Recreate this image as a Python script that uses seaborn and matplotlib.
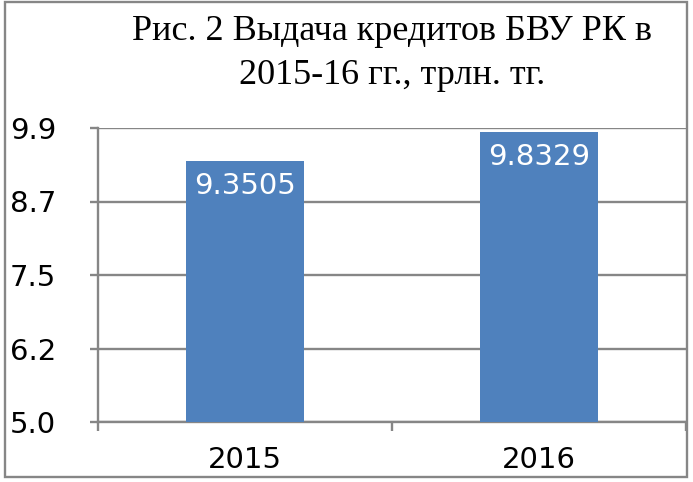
import matplotlib
matplotlib.use("Agg")
import matplotlib.pyplot as plt
from matplotlib.patches import Rectangle
import seaborn as sns
import pandas as pd

years = ["2015", "2016"]
values = [9.3505, 9.8329]
value_labels = ["9.3505", "9.8329"]
y_ticks = [5.0, 6.225, 7.45, 8.675, 9.9]
y_tick_labels = ["5.0", "6.2", "7.5", "8.7", "9.9"]
title_lines = ["Рис. 2 Выдача кредитов БВУ РК в", "2015-16 гг., трлн. тг."]

sns.set_style("white")
plt.rcParams["font.family"] = ["DejaVu Sans"]
plt.rcParams["text.color"] = "black"
plt.rcParams["xtick.color"] = "black"
plt.rcParams["ytick.color"] = "black"

W, H = 693, 482
fig = plt.figure(figsize=(W / 100, H / 100), dpi=100)
ax = fig.add_axes([98 / W, 1 - 422 / H, (686 - 98) / W, (422 - 128) / H])

df = pd.DataFrame({"year": years, "value": values})
grid_c = "#868686"
bar_c = "#4F81BD"
sns.barplot(data=df, x="year", y="value", color=bar_c, width=0.4,
            saturation=1, ax=ax, zorder=3, linewidth=0)
ax.set_xlim(-0.5, 1.5)
ax.set_ylim(5.0, 9.9)
ax.set_yticks(y_ticks)
ax.set_yticklabels(y_tick_labels)
ax.set_xlabel("")
ax.set_ylabel("")

ax.grid(axis="y", color=grid_c, linewidth=1.7, zorder=0)
ax.set_axisbelow(True)
for s in ["top", "right"]:
    ax.spines[s].set_visible(False)
for s in ["left", "bottom"]:
    ax.spines[s].set_color(grid_c)
    ax.spines[s].set_linewidth(1.7)

ax.tick_params(axis="y", which="major", length=6, width=1.7, color=grid_c,
               labelcolor="black", labelsize=21, pad=24, left=True,
               direction="out")
ax.tick_params(axis="x", which="major", length=0, labelsize=21, pad=17,
               labelcolor="black")
ax.set_xticks([-0.5, 0.5, 1.5], minor=True)
ax.tick_params(axis="x", which="minor", length=6.5, width=1.7, color=grid_c,
               bottom=True, direction="out")

for i, (v, lab) in enumerate(zip(values, value_labels)):
    ax.annotate(lab, xy=(i, v), xytext=(0, -18), textcoords="offset points",
                ha="center", va="center", color="white", fontsize=21,
                zorder=5)

fig.text(392 / W, 1 - 32 / H, title_lines[0], ha="center", va="center",
         fontsize=26, color="black", family=["Liberation Serif"])
fig.text(392 / W, 1 - 76 / H, title_lines[1], ha="center", va="center",
         fontsize=26, color="black", family=["Liberation Serif"])

fig.add_artist(Rectangle((5 / W, 5 / H), 682 / W, 475 / H,
                         transform=fig.transFigure, fill=False,
                         edgecolor=grid_c, linewidth=1.7))

fig.savefig("out.png", dpi=100)
